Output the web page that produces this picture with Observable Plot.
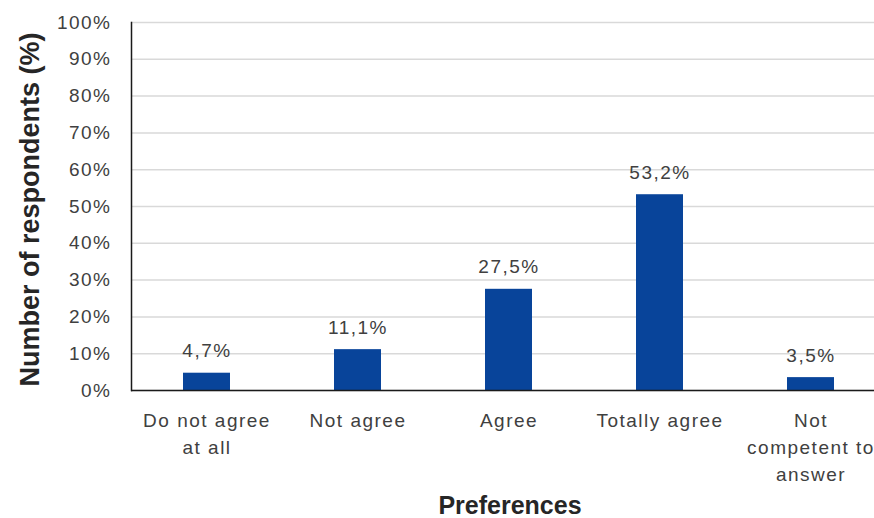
<!DOCTYPE html>
<html>
<head>
<meta charset="utf-8">
<script src="https://cdn.jsdelivr.net/npm/d3@7"></script>
<script src="https://cdn.jsdelivr.net/npm/@observablehq/plot@0.6"></script>
<style>
  body { margin: 0; background: #fff; }
  #chart svg { overflow: hidden; letter-spacing: 1.5px; }
  #chart g[font-weight="bold"] { letter-spacing: 0; }
</style>
</head>
<body>
<div id="chart"></div>
<script>
// Survey answers: share of respondents per preference
const categories = ["Do not agree at all", "Not agree", "Agree", "Totally agree", "Not competent to answer"];
const tickLabels = ["Do not agree\nat all", "Not agree", "Agree", "Totally agree", "Not\ncompetent to\nanswer"];
const shares = [4.7, 11.1, 27.5, 53.2, 3.5];
const yTicks = [0, 10, 20, 30, 40, 50, 60, 70, 80, 90, 100];

const data = categories.map((category, i) => ({category, share: shares[i]}));
const pct = v => v.toFixed(1).replace(".", ",") + "%";

const chart = Plot.plot({
  width: 874,
  height: 518,
  marginLeft: 131,
  marginRight: 0,
  marginTop: 22,
  marginBottom: 128,
  style: {
    fontFamily: "'Liberation Sans', Arial, sans-serif",
    fontSize: "19px",
    color: "#404040",
    background: "white"
  },
  x: {domain: categories, range: [131, 886], paddingInner: 0.69, paddingOuter: 0.345},
  y: {domain: [0, 100]},
  marks: [
    Plot.gridY(yTicks, {stroke: "#d9d9d9", strokeOpacity: 1, strokeWidth: 1.5}),
    Plot.axisY(yTicks, {
      tickSize: 0,
      tickPadding: 20,
      tickFormat: d => d + "%",
      label: null,
      fill: "#404040"
    }),
    Plot.axisX({
      tickSize: 0,
      tickPadding: 17,
      tickFormat: d => tickLabels[categories.indexOf(d)],
      lineHeight: 1.42,
      label: null,
      fill: "#404040"
    }),
    Plot.barY(data, {x: "category", y: "share", fill: "#08449a"}),
    Plot.text(data, {
      x: "category",
      y: "share",
      text: d => pct(d.share),
      dy: -22,
      lineAnchor: "middle",
      fill: "#404040"
    }),
    Plot.ruleY([0], {stroke: "#1a1a1a", strokeWidth: 1.5}),
    Plot.frame({anchor: "left", stroke: "#1a1a1a", strokeWidth: 1.5}),
    // axis titles
    Plot.text(["Preferences"], {
      frameAnchor: "bottom",
      dx: 7,
      dy: 115,
      textAnchor: "middle",
      lineAnchor: "middle",
      fontSize: 25,
      fontWeight: "bold",
      fill: "#262626"
    }),
    Plot.text(["Number of respondents (%)"], {
      frameAnchor: "left",
      dx: -101,
      dy: 3,
      rotate: -90,
      textAnchor: "middle",
      lineAnchor: "middle",
      fontSize: 27,
      fontWeight: "bold",
      fill: "#262626"
    })
  ]
});

document.getElementById("chart").appendChild(chart);
</script>
</body>
</html>
